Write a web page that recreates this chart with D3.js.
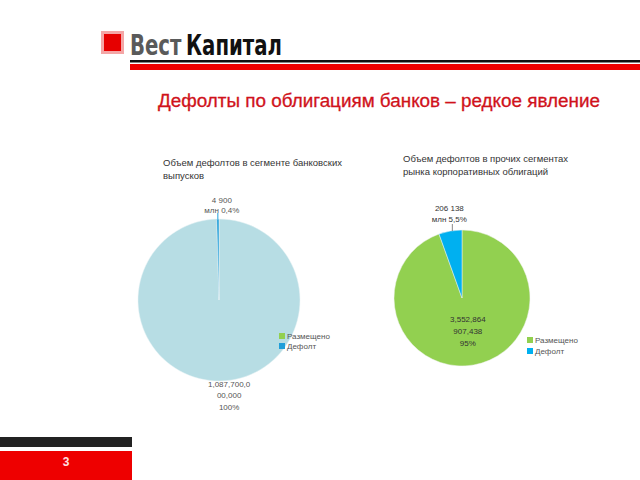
<!DOCTYPE html>
<html><head><meta charset="utf-8">
<script src="https://cdn.jsdelivr.net/npm/d3@7"></script>
<style>body{margin:0;background:#fff}svg{display:block}</style>
</head><body>
<script>
// ---- data ----
const categories = ["Размещено", "Дефолт"];
const bankValues = [1087700, 4900];            // млн руб.
const otherValues = [3552864.907438, 206138];  // млн руб.
const bankOuterLabel = ["4 900", "млн 0,4%"];
const bankBigLabel = ["1,087,700,0", "00,000", "100%"];
const otherOuterLabel = ["206 138", "млн 5,5%"];
const otherInnerLabel = ["3,552,864", "907,438", "95%"];
const bankTitle = ["Объем дефолтов в сегменте банковских", "выпусков"];
const otherTitle = ["Объем дефолтов в прочих сегментах", "рынка корпоративных облигаций"];
const mainTitle = "Дефолты по облигациям банков – редкое явление";
const logoWords = ["Вест", "Капитал"];
const pageNumber = "3";

const W = 640, H = 480;
const svg = d3.select("body").append("svg").attr("width", W).attr("height", H);
const font = "'Liberation Sans', Arial, sans-serif";

// ---- header ----
svg.append("rect").attr("x", 102.5).attr("y", 32.5).attr("width", 20).attr("height", 20)
  .attr("fill", "#e60000").attr("stroke", "#f4a6a6").attr("stroke-width", 3);
const logoG = svg.append("g");
const logoFont = "'DejaVu Sans Condensed','DejaVu Sans',sans-serif";
const w1 = logoG.append("text").attr("x", 0).attr("y", 0).attr("font-family", logoFont)
  .attr("font-weight", "bold").attr("font-size", 29).attr("fill", "#5a5a5a").text(logoWords[0]);
const len1 = w1.node().getComputedTextLength();
const gap = 6;
const w2 = logoG.append("text").attr("x", len1 + gap).attr("y", 0).attr("font-family", logoFont)
  .attr("font-weight", "bold").attr("font-size", 29).attr("fill", "#111").text(logoWords[1]);
const len2 = w2.node().getComputedTextLength();
const sx = 152 / (len1 + gap + len2);
logoG.attr("transform", `translate(130,55) scale(${sx},1)`);

svg.append("rect").attr("x", 130).attr("y", 60).attr("width", 510).attr("height", 2.5).attr("fill", "#111");
svg.append("rect").attr("x", 130).attr("y", 64).attr("width", 510).attr("height", 6).attr("fill", "#ee0000");

svg.append("text").attr("x", 158).attr("y", 107).attr("font-family", font)
  .attr("font-size", 18).attr("fill", "#d0121b").attr("stroke", "#d0121b").attr("stroke-width", 0.3)
  .attr("textLength", 442).attr("lengthAdjust", "spacingAndGlyphs").text(mainTitle);

// ---- footer ----
svg.append("rect").attr("x", 0).attr("y", 437).attr("width", 132).attr("height", 10).attr("fill", "#222");
svg.append("rect").attr("x", 0).attr("y", 451).attr("width", 132).attr("height", 29).attr("fill", "#ee0000");
svg.append("text").attr("x", 66).attr("y", 466).attr("text-anchor", "middle").attr("font-family", font)
  .attr("font-weight", "bold").attr("font-size", 12).attr("fill", "#ffe0e0").text(pageNumber);

// ---- pies ----
const pie = d3.pie().sort(null).value(d => d);

function titleBlock(lines, x, y) {
  lines.forEach((t, i) => {
    svg.append("text").attr("x", x).attr("y", y + i * 12.5).attr("font-family", font)
      .attr("font-size", 9.5).attr("fill", "#333").text(t);
  });
}
function lines(arr, x, y, step, color, anchor) {
  arr.forEach((t, i) => svg.append("text").attr("x", x).attr("y", y + i * step)
    .attr("text-anchor", anchor || "middle").attr("font-family", font).attr("font-size", 8)
    .attr("fill", color).text(t));
}
function legend(x, y, colors, step) {
  categories.forEach((c, i) => {
    svg.append("rect").attr("x", x).attr("y", y + i * step - 6).attr("width", 6).attr("height", 6).attr("fill", colors[i]);
    svg.append("text").attr("x", x + 8).attr("y", y + i * step).attr("font-family", font)
      .attr("font-size", 8).attr("fill", "#555").text(c);
  });
}

// Left pie: bank segment
{
  const cx = 219, cy = 300, r = 81;
  const colors = ["#b7dde4", "#1f9ed9"];
  const arcs = pie(bankValues);
  const arc = d3.arc().innerRadius(0).outerRadius(r);
  const g = svg.append("g").attr("transform", `translate(${cx},${cy})`);
  g.selectAll("path").data(arcs).join("path").attr("d", arc).attr("fill", (d, i) => colors[i])
    .attr("stroke", "#e8f2f4").attr("stroke-width", 0.5);
  titleBlock(bankTitle, 163, 166);
  const a = (arcs[1].startAngle + arcs[1].endAngle) / 2;
  const px = cx + Math.sin(a) * r, py = cy - Math.cos(a) * r;
  svg.append("line").attr("x1", px).attr("y1", py - 6).attr("x2", px).attr("y2", py).attr("stroke", "#1f9ed9").attr("stroke-width", 1);
  lines(bankOuterLabel, px + 4, py - 16, 10, "#555");
  const b = (arcs[0].startAngle + arcs[0].endAngle) / 2;
  const bx = cx + Math.sin(b) * r, by = cy - Math.cos(b) * r;
  lines(bankBigLabel, bx + 9, by + 6, 11.5, "#555");
  legend(279, 339, ["#92d050", "#1f9ed9"], 10);
}

// Right pie: other segments
{
  const cx = 462, cy = 298, r = 68;
  const colors = ["#92d050", "#00b0f0"];
  const arcs = pie(otherValues);
  const arc = d3.arc().innerRadius(0).outerRadius(r);
  const g = svg.append("g").attr("transform", `translate(${cx},${cy})`);
  g.selectAll("path").data(arcs).join("path").attr("d", arc).attr("fill", (d, i) => colors[i])
    .attr("stroke", "#f0f0f0").attr("stroke-width", 0.5);
  titleBlock(otherTitle, 403, 162);
  const a = (arcs[1].startAngle + arcs[1].endAngle) / 2;
  const px = cx + Math.sin(a) * r, py = cy - Math.cos(a) * r;
  svg.append("line").attr("x1", px + 2).attr("y1", py - 7).attr("x2", px + 2).attr("y2", py).attr("stroke", "#888").attr("stroke-width", 1);
  lines(otherOuterLabel, px - 1, py - 20, 11, "#333");
  const inner = d3.arc().innerRadius(0).outerRadius(r);
  const [ix, iy] = inner.centroid(arcs[0]);
  lines(otherInnerLabel, cx + ix, cy + iy - 9, 12, "#333");
  legend(527, 343, colors, 11);
}
</script>
</body></html>
